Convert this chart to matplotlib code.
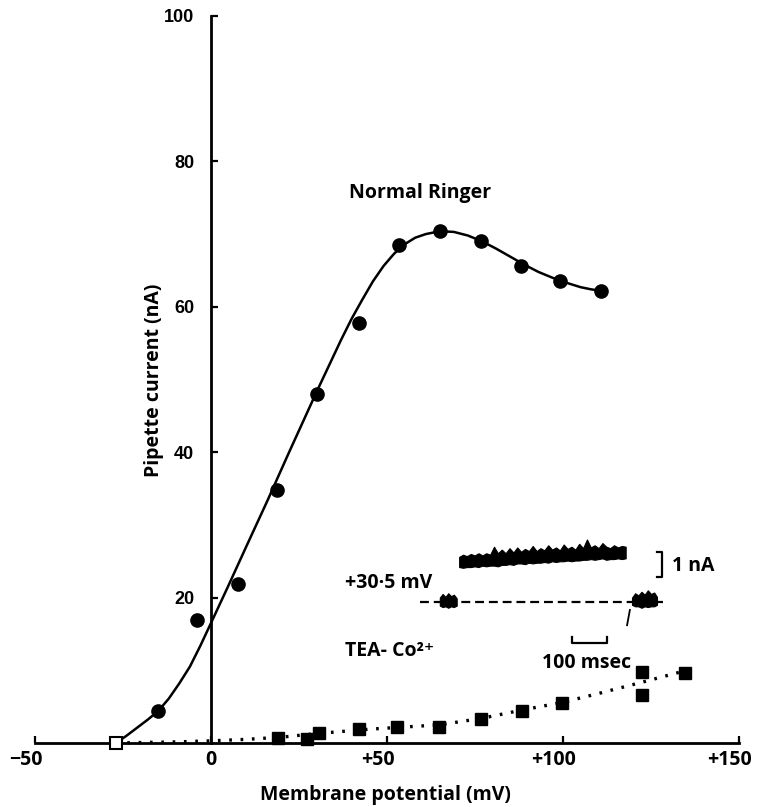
import matplotlib.pyplot as plt
from matplotlib.transforms import ScaledTranslation

plt.rcParams['font.family'] = ['Open Sans', 'DejaVu Sans']
plt.rcParams['font.weight'] = 'bold'

# Normal Ringer: measured points (mV, nA)
ringer_mv = [-15.1, -4.0, 7.7, 18.8, 30.1, 42.0, 53.4, 65.1, 76.7, 88.1, 99.1, 110.8]
ringer_na = [4.4, 16.9, 21.9, 34.8, 48.0, 57.8, 68.5, 70.4, 69.1, 65.6, 63.5, 62.2]

# hand-drawn curve through them
ringer_curve_mv = [-27, -24, -21, -18, -15, -12, -9, -6, -3, 0, 5, 10, 16, 22, 30,
                   37, 40, 43, 46, 49, 52, 55, 58, 61, 65, 69, 73, 77, 81, 85, 89,
                   93, 97, 101, 105, 108, 111]
ringer_curve_na = [0, 1.0, 2.1, 3.2, 4.4, 6.1, 8.2, 10.5, 13.4, 16.5, 21.7, 27.0,
                   33.3, 39.8, 48.3, 55.5, 58.4, 61.0, 63.5, 65.6, 67.3, 68.6, 69.5,
                   70.0, 70.4, 70.3, 69.8, 69.0, 68.0, 66.9, 65.8, 64.8, 64.0, 63.3,
                   62.7, 62.4, 62.2]

# TEA - Co2+ points
tea_mv = [19.0, 27.3, 30.7, 42.0, 52.8, 64.8, 76.7, 88.4, 99.7, 122.4, 122.4, 134.7]
tea_na = [0.7, 0.5, 1.4, 1.9, 2.2, 2.2, 3.3, 4.4, 5.5, 6.6, 9.8, 9.6]
tea_open_mv = [-27]
tea_open_na = [0]

tea_curve_mv = [-27, -10, 0, 10, 20, 30, 45, 55, 65, 77, 88, 100, 110, 122, 137.5]
tea_curve_na = [0, 0.15, 0.3, 0.5, 0.8, 1.3, 1.9, 2.2, 2.5, 3.4, 4.5, 5.6, 6.8, 8.3, 10.3]

# inset record (+30.5 mV), upper and lower edges of the noisy trace, in axis units
trace_mv = [70.5 + 1.1 * i for i in range(44)]
trace_top = [25.6, 25.9, 25.7, 26.0, 25.8, 26.1, 25.8, 26.1, 25.9, 27.0, 26.1, 26.6,
             26.1, 26.8, 26.2, 26.9, 26.3, 26.7, 26.4, 27.1, 26.4, 26.8, 26.5, 27.2,
             26.6, 26.9, 26.5, 27.3, 26.7, 27.0, 26.6, 27.4, 26.8, 28.0, 26.9, 27.2,
             26.8, 27.5, 27.0, 26.8, 27.2, 26.9, 27.1, 27.0]
trace_bottom = [24.2, 24.1, 24.2, 24.2, 24.3, 24.2, 24.4, 24.3, 24.4, 24.4, 24.3, 24.5,
                24.5, 24.6, 24.5, 24.7, 24.7, 24.6, 24.8, 24.7, 24.8, 24.8, 24.9, 24.8,
                25.0, 24.9, 25.0, 25.0, 25.1, 25.0, 25.1, 25.1, 25.2, 25.2, 25.3, 25.2,
                25.3, 25.4, 25.2, 25.3, 25.3, 25.4, 25.3, 25.4]
blob1_mv = [65.0, 65.8, 66.6, 67.4, 68.2, 69.0, 69.8]
blob1_top = [20.0, 20.5, 20.1, 20.6, 20.2, 20.4, 19.9]
blob1_bottom = [18.9, 18.7, 18.8, 18.6, 18.8, 18.7, 18.9]
blob2_mv = [119.6, 120.5, 121.4, 122.3, 123.2, 124.1, 125.0, 125.9, 126.7]
blob2_top = [20.0, 20.6, 20.3, 20.8, 20.4, 21.0, 20.5, 20.7, 20.1]
blob2_bottom = [19.0, 18.8, 18.8, 18.6, 18.8, 18.7, 18.8, 18.8, 19.0]

x_ticks = [-50, 0, 50, 100, 150]
x_labels = ['\u221250', '0', '+50', '+100', '+150']
y_ticks = [20, 40, 60, 80, 100]
y_labels = ['20', '40', '60', '80', '100']

fig = plt.figure(figsize=(7.57, 8.07), dpi=100)
ax = fig.add_axes([35 / 757, 1 - 743 / 807, 704 / 757, 727 / 807])
ax.set_xlim(-50, 150)
ax.set_ylim(0, 100)

ax.spines['top'].set_visible(False)
ax.spines['right'].set_visible(False)
ax.spines['left'].set_position(('data', 0))
ax.spines['bottom'].set_position(('data', 0))
ax.spines['left'].set_linewidth(2.0)
ax.spines['bottom'].set_linewidth(2.0)

ax.set_xticks(x_ticks)
ax.set_xticklabels(x_labels, fontsize=14)
ax.set_yticks(y_ticks)
ax.set_yticklabels(y_labels, fontsize=13, family='Liberation Sans')
ax.tick_params(axis='x', direction='in', length=5, width=1.6, pad=5)
ax.tick_params(axis='y', direction='in', length=5, width=1.6, pad=12)

# signed labels sit a little left of their ticks, as in the print
for lbl, txt in zip(ax.get_xticklabels(), x_labels):
    if txt != '0':
        lbl.set_transform(lbl.get_transform() +
                          ScaledTranslation(-9 / 100, 0, fig.dpi_scale_trans))

# Normal Ringer
ax.plot(ringer_curve_mv, ringer_curve_na, color='black', lw=1.8, clip_on=False)
ax.plot(ringer_mv, ringer_na, 'o', color='black', ms=9.5, clip_on=False)

# TEA - Co2+
ax.plot(tea_curve_mv, tea_curve_na, color='black', lw=2.4,
        linestyle=(0, (0.8, 2.6)), clip_on=False)
ax.plot(tea_mv, tea_na, 's', color='black', ms=8.5, clip_on=False)
ax.plot(tea_open_mv, tea_open_na, 's', mfc='white', mec='black', mew=1.5,
        ms=8.5, clip_on=False, zorder=5)

# inset record
ax.fill_between(trace_mv, trace_bottom, trace_top, color='black', lw=0.8, edgecolor='black')
ax.plot([59.4, 128.4], [19.4, 19.4], color='black', lw=1.6, linestyle=(0, (4, 2.2)))
ax.fill_between(blob1_mv, blob1_bottom, blob1_top, color='black', lw=0.8, edgecolor='black')
ax.fill_between(blob2_mv, blob2_bottom, blob2_top, color='black', lw=0.8, edgecolor='black')
ax.plot([119.0, 118.2], [18.3, 16.2], color='black', lw=1.3)
# calibration bars
ax.plot([126.7, 128.1, 128.1, 126.7], [26.3, 26.3, 22.8, 22.8], color='black', lw=1.6)
ax.plot([102.6, 102.6, 112.5, 112.5], [14.6, 13.8, 13.8, 14.6], color='black', lw=1.6)

ax.text(131.0, 24.4, '1 nA', fontsize=14, va='center')
ax.text(38.1, 22.0, '+30\u00b75 mV', fontsize=14, va='center')
ax.text(38.1, 12.7, 'TEA- Co\u00b2\u207a', fontsize=14, va='center')
ax.text(106.8, 11.0, '100 msec', fontsize=14, va='center', ha='center')
ax.text(59.4, 75.7, 'Normal Ringer', fontsize=14, va='center', ha='center')

fig.text(385 / 757, 1 - 795 / 807, 'Membrane potential (mV)', fontsize=14,
         ha='center', va='center')
fig.text(154 / 757, 1 - 380 / 807, 'Pipette current (nA)', fontsize=14,
         ha='center', va='center', rotation=90)

fig.savefig('out.png', dpi=100)
